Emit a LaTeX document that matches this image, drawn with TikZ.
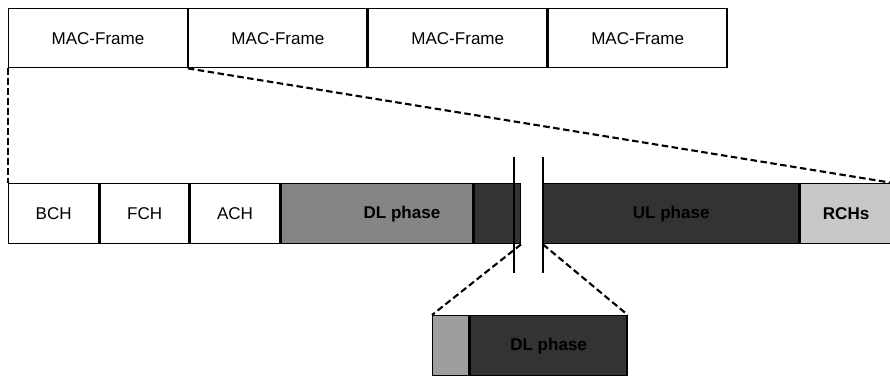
\documentclass[tikz,border=0pt]{standalone}
\usepackage{fontspec}
\setmainfont{Liberation Sans}
\usepackage{tikz}
\usetikzlibrary{positioning, calc}
\tikzset{
    macbox/.style={draw, line width=0.8pt, anchor=north west, minimum width=3.57cm, minimum height=1.18cm, inner sep=0pt, font=\fontsize{9.7}{11}\selectfont},
    field/.style={draw, line width=0.8pt, anchor=north west, minimum height=1.2cm, inner sep=0pt, font=\fontsize{9.7}{11}\selectfont},
    phase/.style={field, font=\fontsize{9.7}{11}\selectfont\bfseries},
    zoomline/.style={line width=1.2pt, dash pattern=on 0.13cm off 0.07cm},
    breakline/.style={line width=1pt},
}
\definecolor{dlgray}{gray}{0.52}
\definecolor{darkgray}{gray}{0.2}
\definecolor{rchgray}{gray}{0.78}
\definecolor{lightgray}{gray}{0.62}

\begin{document}
\begin{tikzpicture}
        \useasboundingbox (0,0) rectangle (17.8,-7.54);
        % MAC-Frames (obere Reihe)
        \node[macbox] (mac1) at (0.16,-0.16) {MAC-Frame};
        \node[macbox, right=0pt of mac1] (mac2) {MAC-Frame};
        \node[macbox, right=0pt of mac2] (mac3) {MAC-Frame};
        \node[macbox, right=0pt of mac3] (mac4) {MAC-Frame};
        % Aufbau eines MAC-Frames
        \node[field, minimum width=1.8cm] (bch) at (0.16,-3.66) {BCH};
        \node[field, minimum width=1.78cm, right=0pt of bch] (fch) {FCH};
        \node[field, minimum width=1.78cm, right=0pt of fch] (ach) {ACH};
        \node[phase, fill=dlgray, minimum width=3.84cm, right=0pt of ach, label={[xshift=0.5cm, font=\fontsize{9.7}{11}\selectfont\bfseries]center:DL phase}] (dl) {};
        \node[phase, fill=darkgray, minimum width=0.92cm, right=0pt of dl] (dil) {};
        \node[phase, fill=darkgray, minimum width=5.1cm] (ul) at (10.86,-3.66) {UL phase};
        \node[phase, fill=rchgray, minimum width=1.84cm, right=0pt of ul] (rch) {RCHs};
        % Unterbrechung
        \coordinate (brk1top) at (10.28,-3.14); \coordinate (brk1bot) at (10.28,-5.46);
        \coordinate (brk2top) at (10.86,-3.14); \coordinate (brk2bot) at (10.86,-5.46);
        \draw[breakline] (brk1top) -- (brk1bot);
        \draw[breakline] (brk2top) -- (brk2bot);
        % Ausschnitt
        \node[field, fill=lightgray, minimum width=0.72cm] (zlight) at (8.64,-6.3) {};
        \node[phase, fill=darkgray, minimum width=3.14cm, right=0pt of zlight] (zdark) {DL phase};
        % Hilfslinien
        \draw[zoomline] (mac1.south west) -- (bch.north west);
        \draw[zoomline] (mac1.south east) -- (rch.north east);
        \draw[zoomline] (dil.south east) -- (zlight.north west);
        \draw[zoomline] (ul.south west) -- (zdark.north east);
    \end{tikzpicture}
\end{document}
